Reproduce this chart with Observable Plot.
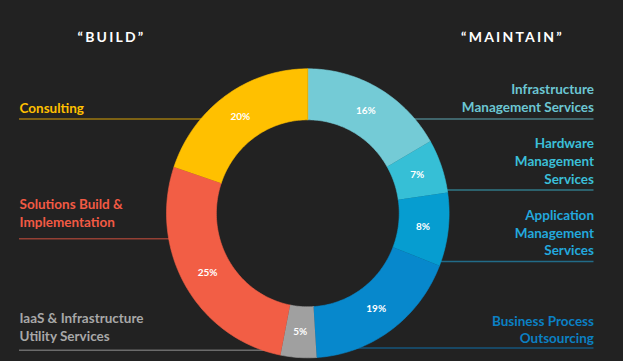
<!DOCTYPE html>
<html><head><meta charset="utf-8">
<script src="https://cdn.jsdelivr.net/npm/d3@7"></script>
<script src="https://cdn.jsdelivr.net/npm/@observablehq/plot@0.6"></script>
<style>
html,body{margin:0;padding:0;background:#222222;}
#chart{width:623px;height:361px;overflow:hidden}
</style></head><body><div id="chart"></div>
<script>
// ---- data ----
const segments = ["Infrastructure Management Services","Hardware Management Services","Application Management Services","Business Process Outsourcing","IaaS & Infrastructure Utility Services","Solutions Build & Implementation","Consulting"];
// arc sizes as drawn in the picture (percent of the ring)
const shares = [16.7, 6.0, 8.2, 18.1, 4.1, 27.1, 19.8];
// percentages printed on the ring
const shareLabels = ["16%","7%","8%","19%","5%","25%","20%"];
const sliceColors = ["#74cbd6","#36bfd6","#069dd0","#0788cc","#a0a0a0","#f25e45","#ffc000"];
const labelColors = ["#6cc6d3","#3bbfd8","#23a8dd","#0b80c4","#a8a8a8","#f25a44","#ffc000"];
const labelTexts = ["Infrastructure\nManagement Services","Hardware\nManagement\nServices","Application\nManagement\nServices","Business Process\nOutsourcing","IaaS & Infrastructure\nUtility Services","Solutions Build &\nImplementation","Consulting"];
const headers = ["“BUILD”","“MAINTAIN”"];

// ---- layout (pixels) ----
const cx = 307.3, cy = 212.8, rx = 141.3, ry = 144.5, inner = 0.647, mid = 0.82;
const side = ["right","right","right","right","left","left","left"];
const labelY = [97, 160, 231.5, 328.3, 325.5, 212, 107];
const ruleY = [118.5, 189.5, 261, 347.5, 349.7, 238.3, 118.5];
const leftX = 19, rightX = 593.5;
const headerX = [111, 512], headerY = 37.5;

// ---- geometry from data ----
const total = d3.sum(shares);
const cum = d3.cumsum(shares);
const slices = shares.map((v, i) => {
  const a0 = (cum[i] - v) / total * 2 * Math.PI;
  const a1 = cum[i] / total * 2 * Math.PI;
  const n = Math.max(8, Math.ceil(v * 3));
  const pts = [];
  for (let k = 0; k <= n; k++) {
    const a = a0 + (a1 - a0) * k / n;
    pts.push({x: cx + rx * Math.sin(a), y: cy - ry * Math.cos(a)});
  }
  for (let k = n; k >= 0; k--) {
    const a = a0 + (a1 - a0) * k / n;
    pts.push({x: cx + rx * inner * Math.sin(a), y: cy - ry * inner * Math.cos(a)});
  }
  const am = (a0 + a1) / 2;
  return {pts, name: segments[i], color: sliceColors[i],
    lx: cx + rx * mid * Math.sin(am), ly: cy - ry * mid * Math.cos(am), label: shareLabels[i]};
});

// leader lines stop just inside the ring's outer edge
const edgeHalf = y => rx * Math.sqrt(Math.max(0, 1 - ((y - cy) / ry) ** 2)) - 4;
const labels = segments.map((s, i) => ({
  text: labelTexts[i], color: labelColors[i], side: side[i],
  x: side[i] === "left" ? leftX : rightX, y: labelY[i],
  ry: ruleY[i],
  x1: side[i] === "left" ? leftX : cx + edgeHalf(ruleY[i]),
  x2: side[i] === "left" ? cx - edgeHalf(ruleY[i]) : rightX
}));

const fontFamily = "Lato, 'Open Sans', sans-serif";

const chart = Plot.plot({
  width: 623, height: 361, margin: 0,
  x: {domain: [0, 623], range: [0, 623], axis: null},
  y: {domain: [0, 361], range: [0, 361], axis: null},
  style: {background: "#222222", fontFamily},
  marks: [
    Plot.ruleY(labels, {y: "ry", x1: "x1", x2: "x2", stroke: "color", strokeOpacity: 0.55, strokeWidth: 1.5}),
    ...slices.map(s => Plot.line(s.pts, {x: "x", y: "y", fill: s.color, stroke: s.color, strokeWidth: 0.6, curve: "linear"})),
    Plot.text(slices, {x: "lx", y: "ly", text: "label", fill: "white", fontSize: 10, fontWeight: "bold"}),
    Plot.text(labels.filter(d => d.side === "left"), {x: "x", y: "y", text: "text", fill: "color", textAnchor: "start", fontSize: 13.5, fontWeight: "bold", lineHeight: 1.31}),
    Plot.text(labels.filter(d => d.side === "right"), {x: "x", y: "y", text: "text", fill: "color", textAnchor: "end", fontSize: 13.5, fontWeight: "bold", lineHeight: 1.31}),
    Plot.text(headers, {x: (d, i) => headerX[i], y: () => headerY, text: d => d, fill: "white", fontSize: 14, fontWeight: "bold"})
  ]
});
chart.querySelectorAll('text').forEach(t => {
  if (headers.includes(t.textContent)) {
    t.setAttribute("letter-spacing", "2.2");
    t.style.letterSpacing = "2.2px";
  }
});
document.getElementById("chart").appendChild(chart);
</script></body></html>
